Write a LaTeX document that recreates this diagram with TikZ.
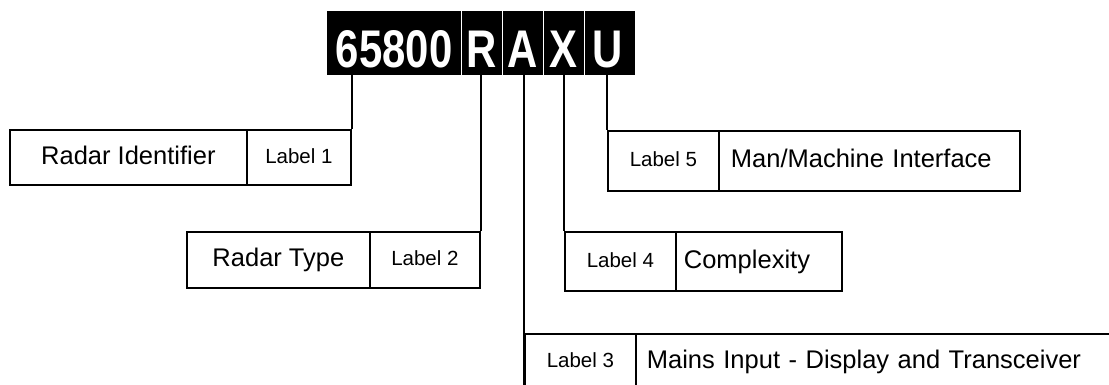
\documentclass[tikz,border=0pt]{standalone}
\usepackage{fontspec}
\setmainfont{Liberation Sans}
\begin{document}
\begin{tikzpicture}[x=1pt,y=-1pt,
  seg/.style={fill=black, text=white, draw=none, inner sep=0pt, anchor=north west,
    minimum height=64pt, text height=48pt, text depth=0pt,
    font=\fontsize{53}{60}\selectfont\bfseries},
  sepline/.style={white, line width=1.5pt},
  cell/.style={draw=black, line width=1.8pt, inner sep=0pt, anchor=north west},
  maintxt/.style={cell, font=\fontsize{25.5}{30}\selectfont, text height=18.7pt, text depth=5.1pt},
  labtxt/.style={cell, font=\fontsize{20.5}{24}\selectfont, text height=15.8pt, text depth=4.1pt},
  conn/.style={draw=black, line width=1.8pt}]
\useasboundingbox (0,0) rectangle (1109,385);
% header
\node[seg, minimum width=134pt] (h1) at (327,11) {\scalebox{0.79}[1]{65800}};
\node[seg, minimum width=41pt] (h2) at (461,11) {\scalebox{0.79}[1]{R}};
\node[seg, minimum width=41pt] (h3) at (502,11) {\scalebox{0.79}[1]{A}};
\node[seg, minimum width=41pt] (h4) at (543,11) {\scalebox{0.79}[1]{X}};
\node[seg, minimum width=51pt] (h5) at (584,11) {\scalebox{0.79}[1]{U}\hspace*{5pt}};
\draw[sepline] (h1.north east) -- (h1.south east);
\draw[sepline] (h2.north east) -- (h2.south east);
\draw[sepline] (h3.north east) -- (h3.south east);
\draw[sepline] (h4.north east) -- (h4.south east);
% box 1
\node[maintxt, minimum width=237pt, minimum height=55pt] (main1) at (9,129) {Radar Identifier};
\node[labtxt, minimum width=104pt, minimum height=55pt] (lab1) at (246,129) {Label 1};
% box 2
\node[maintxt, minimum width=183pt, minimum height=56pt] (main2) at (186,231) {Radar Type};
\node[labtxt, minimum width=110pt, minimum height=56pt] (lab2) at (369,231) {Label 2};
% box 3
\node[labtxt, minimum width=111pt, minimum height=56pt] (lab3) at (524,333) {Label 3};
\node[maintxt, minimum height=56pt, text width=463pt, inner xsep=11pt, align=left] (main3) at (635,333) {Mains Input - Display and Transceiver};
% box 4
\node[labtxt, minimum width=111pt, minimum height=59pt] (lab4) at (564,231) {Label 4};
\node[maintxt, minimum height=59pt, text width=150pt, inner xsep=8pt, align=left] (main4) at (675,231) {Complexity};
% box 5
\node[labtxt, minimum width=111pt, minimum height=60pt] (lab5) at (607,130) {Label 5};
\node[maintxt, minimum height=60pt, text width=277pt, inner xsep=12pt, align=left] (main5) at (718,130) {Man/Machine Interface};
% connectors
\draw[conn] (h1.south -| lab1.north east) -- (lab1.north east);
\draw[conn] (h2.south -| lab2.north east) -- (lab2.north east);
\draw[conn] (h3.south -| lab3.north west) -- (lab3.south west);
\draw[conn] (h4.south -| lab4.north west) -- (lab4.north west);
\draw[conn] (h5.south -| lab5.north west) -- (lab5.north west);
\end{tikzpicture}
\end{document}
